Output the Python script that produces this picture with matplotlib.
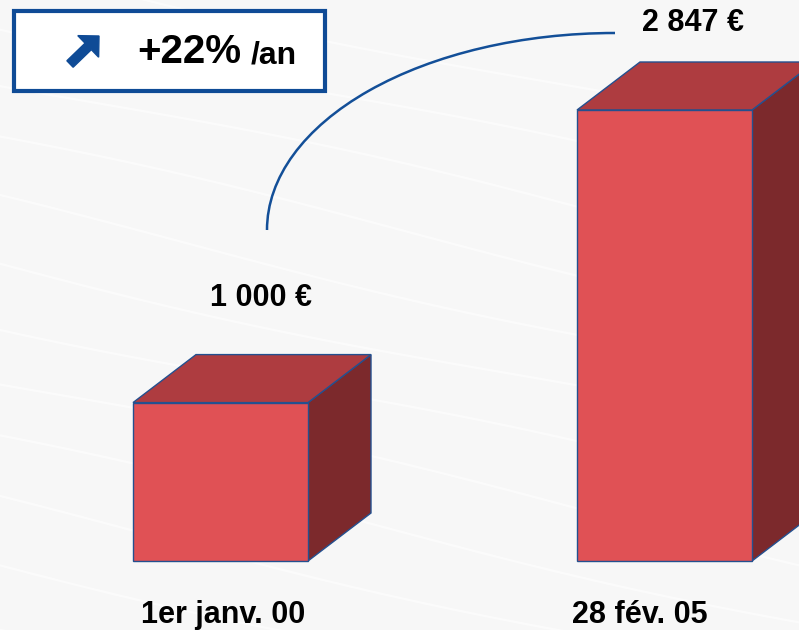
import matplotlib
matplotlib.use("Agg")
import matplotlib.pyplot as plt
from matplotlib.patches import Polygon, Rectangle, Arc, FancyArrow
from matplotlib import font_manager
import numpy as np

# ---- data ----
categories = ["1er janv. 00", "28 fév. 05"]
values = [1000, 2847]
value_labels = ["1 000 €", "2 847 €"]
growth_text = "+22%"
growth_unit = "/an"

# ---- fonts ----
names = {f.name for f in font_manager.fontManager.ttflist}
narrow = "Liberation Sans Narrow" if "Liberation Sans Narrow" in names else "Liberation Sans"
narrow_size = 25 if narrow == "Liberation Sans Narrow" else 22
regular = "Liberation Sans"

W, H = 799, 630
fig = plt.figure(figsize=(W / 100, H / 100), dpi=100)
fig.patch.set_facecolor("#F7F7F7")

# pixel overlay axes (background deco, box, arc)
ov = fig.add_axes([0, 0, 1, 1], zorder=0)
ov.set_xlim(0, W)
ov.set_ylim(H, 0)
ov.axis("off")

# faint background streaks
for k in range(12):
    x0 = -100
    y0 = -60 + k * 60
    xs = np.linspace(x0, W + 50, 60)
    ys = y0 + 0.22 * (xs - x0) + 8 * np.sin(xs / 170 + 1.3 * k)
    ov.plot(xs, ys, color="white", lw=1.6, alpha=0.55, zorder=0)

# data axes: x in category units, y in euros
ax = fig.add_axes([0, 0, 1, 1], zorder=1)
ax.patch.set_alpha(0)
ax.axis("off")
px_per_unit_x = 444.0
centers_px0 = 220.5
ax.set_xlim(-centers_px0 / px_per_unit_x, (W - centers_px0) / px_per_unit_x)
px_per_eur = 451.0 / 2847.0
base_px = 561.0
ax.set_ylim(-(H - base_px) / px_per_eur, base_px / px_per_eur)

bar_w = 175.0 / px_per_unit_x
ddx = 63.0 / px_per_unit_x
ddy = 48.0 / px_per_eur

front_c = "#E05155"
top_c = "#AE3C40"
side_c = "#7C292C"
edge_c = "#24508F"

for i, v in enumerate(values):
    x0 = i - bar_w / 2
    x1 = i + bar_w / 2
    front = Rectangle((x0, 0), bar_w, v, facecolor=front_c, edgecolor=edge_c, lw=1.0, zorder=3)
    top = Polygon([(x0, v), (x1, v), (x1 + ddx, v + ddy), (x0 + ddx, v + ddy)],
                  closed=True, facecolor=top_c, edgecolor=edge_c, lw=1.0, zorder=2)
    side = Polygon([(x1, 0), (x1 + ddx, ddy), (x1 + ddx, v + ddy), (x1, v)],
                   closed=True, facecolor=side_c, edgecolor=edge_c, lw=1.0, zorder=2)
    ax.add_patch(side)
    ax.add_patch(top)
    ax.add_patch(front)

# value labels
label_offsets = [(41, 105), (28, 87)]
for i, (v, lab) in enumerate(zip(values, value_labels)):
    ax.annotate(lab, xy=(i, v), xytext=label_offsets[i], textcoords="offset pixels",
                ha="center", va="center", fontsize=narrow_size, fontweight="bold",
                family=narrow, color="black", zorder=5)

# category labels
cat_offsets = [2.5, -24.5]
for i, c in enumerate(categories):
    ax.annotate(c, xy=(i, 0), xytext=(cat_offsets[i], -54), textcoords="offset pixels",
                ha="center", va="center", fontsize=22, fontweight="bold",
                family=regular, color="black", zorder=5)

# growth arc
arc = Arc((615, 230), 2 * 348, 2 * 197, theta1=180, theta2=270,
          color="#134F98", lw=1.8, zorder=4)
ov.add_patch(arc)

# growth box
box = Rectangle((14, 11), 311, 80, facecolor="white", edgecolor="#0F4B96", lw=3, zorder=4)
ov.add_patch(box)
arrow = FancyArrow(70, 64, 29, -28, width=9, head_width=30, head_length=15,
                   length_includes_head=True, color="#0F4B96", zorder=5)
ov.add_patch(arrow)
ov.text(137, 52, growth_text, ha="left", va="center", fontsize=29, fontweight="bold",
        family=regular, color="black", zorder=6)
ov.text(251, 56, growth_unit, ha="left", va="center", fontsize=23, fontweight="bold",
        family=regular, color="black", zorder=6)

fig.savefig("out.png", dpi=100, facecolor=fig.get_facecolor())
